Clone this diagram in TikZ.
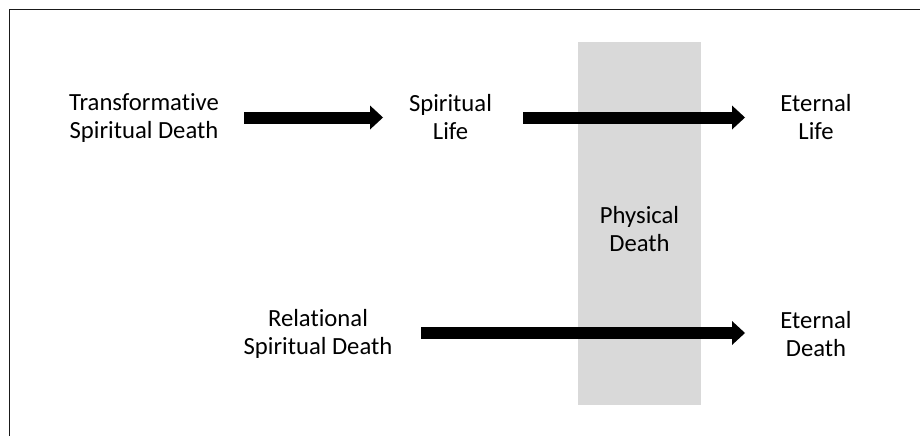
\documentclass[tikz,border=0pt]{standalone}
\usepackage{fontspec}
\setmainfont{Carlito}[Ligatures={NoCommon}]
\usetikzlibrary{arrows.meta}
\definecolor{panelgray}{HTML}{D9D9D9}
\definecolor{framegray}{HTML}{1A1A1A}
\tikzset{
  label/.style={align=center, inner sep=0pt, font=\fontsize{18.5}{20.5}\selectfont, text=black},
  bigarrow/.style={line width=9pt, black, line cap=butt,
    -{Triangle[length=9.75pt,width=18pt,line width=0pt]}},
}
\begin{document}
\begin{tikzpicture}[x=0.75pt,y=-0.75pt]
\useasboundingbox (0,0) rectangle (920,436);
\fill[white] (0,0) rectangle (920,436);
% frame
\draw[framegray, line width=0.9pt] (9.5,436) -- (9.5,9.5) -- (920,9.5);
% physical death band
\fill[panelgray] (578,42) rectangle (701,405);
% labels
\node[label] (tsd) at (144,118) {Transformative\\Spiritual Death};
\node[label] (sl) at (450.5,117) {Spiritual\\Life};
\node[label] (el) at (816,117) {Eternal\\Life};
\node[label] (pd) at (639.5,229) {Physical\\Death};
\node[label] (rsd) at (318,334) {Relational\\Spiritual Death};
\node[label] (ed) at (816,334) {Eternal\\Death};
% arrow end points
\coordinate (a1s) at (244,117.5);
\coordinate (a1e) at (383,117.5);
\coordinate (a2s) at (523,117.5);
\coordinate (a2e) at (745,117.5);
\coordinate (a3s) at (421,333);
\coordinate (a3e) at (745,333);
\draw[bigarrow] (a1s) -- (a1e);
\draw[bigarrow] (a2s) -- (a2e);
\draw[bigarrow] (a3s) -- (a3e);
\end{tikzpicture}
\end{document}
